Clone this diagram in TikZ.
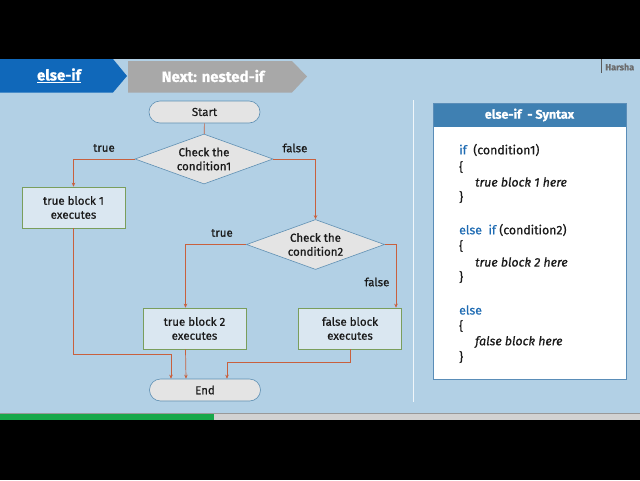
\documentclass[tikz,border=0pt]{standalone}
\usepackage{fontspec}
\setmainfont{Fira Sans}[RawFeature={embolden=0.7}]
\usetikzlibrary{shapes.geometric,arrows.meta}
\definecolor{bgblue}{HTML}{B2D0E5}
\definecolor{tabblue}{HTML}{1068BA}
\definecolor{tabgray}{HTML}{A8A8A8}
\definecolor{nodegray}{HTML}{E4E4E4}
\definecolor{nodeedge}{HTML}{5E8FB3}
\definecolor{boxfill}{HTML}{DAE7F1}
\definecolor{boxedge}{HTML}{7A9E5C}
\definecolor{arrowred}{HTML}{C8603E}
\definecolor{panelhead}{HTML}{3F80B2}
\definecolor{paneledge}{HTML}{5A8DB8}
\definecolor{kwblue}{HTML}{1E6BB3}
\definecolor{progreen}{HTML}{17A84A}
\definecolor{progray}{HTML}{D2D2D2}
\definecolor{txt}{HTML}{1A1A1A}
\tikzset{
  term/.style={draw=nodeedge, fill=nodegray, rounded corners=11pt, minimum width=111pt, minimum height=22pt, inner sep=0pt, font=\fontsize{11.5}{14}\selectfont, text=txt, line width=0.6pt},
  decision/.style={draw=nodeedge, fill=nodegray, shape=diamond, aspect=2.76, minimum width=138pt, minimum height=50pt, inner sep=-3pt, align=center, font=\fontsize{11.5}{14}\selectfont, text=txt, line width=0.6pt},
  block/.style={draw=boxedge, fill=boxfill, minimum width=103pt, minimum height=41pt, inner sep=0pt, align=center, font=\fontsize{11.5}{14}\selectfont, text=txt, line width=0.6pt},
  lbl/.style={font=\fontsize{11.5}{14}\selectfont, text=txt, inner sep=0pt},
  conn/.style={draw=arrowred, line width=0.7pt},
  arr/.style={conn, -{Stealth[length=4pt,width=3.5pt]}},
  code/.style={anchor=west, inner sep=0pt, font=\fontsize{12.3}{14}\selectfont, text=txt},
}
\begin{document}
\begin{tikzpicture}[x=1pt,y=-1pt]
\useasboundingbox (0,0) rectangle (640,480);
% background
\fill[black] (0,0) rectangle (640,480);
\fill[bgblue] (0,59) rectangle (640,413.5);
% progress bar
\fill[progray] (0,413.5) rectangle (640,420);
\draw[gray!80, line width=0.6pt] (0,413.5) -- (640,413.5);
\fill[progreen] (214,414) rectangle (0,420);
% header tabs
\fill[tabblue] (0,59) -- (113,59) -- (127,76) -- (113,92.5) -- (0,92.5) -- cycle;
\fill[tabgray] (128,61) -- (292,61) -- (307,76.5) -- (292,92.5) -- (128,92.5) -- cycle;
\node[text=white, font=\fontsize{15}{18}\bfseries\selectfont, inner sep=0pt] (t1) at (59,75.5) {\underline{else-if}};
\node[text=white, font=\fontsize{15}{18}\bfseries\selectfont, inner sep=0pt] (t2) at (213,76) {Next: nested-if};
% author
\draw[gray!70!black, line width=0.6pt] (601,59) -- (601,73);
\node[text=gray!85!black, font=\fontsize{9}{10}\bfseries\selectfont, inner sep=0pt, anchor=west] (auth) at (605,67) {Harsha};
% separator
\draw[white!80!bgblue, line width=0.6pt] (413,100) -- (413,402);
% flowchart
\node[term] (start) at (204.5,112) {Start};
\node[decision] (d1) at (204,159) {Check the\\condition1};
\node[block] (b1) at (73.5,207.5) {true block 1\\executes};
\node[decision] (d2) at (315.5,244.5) {Check the\\condition2};
\node[block] (b2) at (194.5,328.5) {true block 2\\executes};
\node[block] (b3) at (350,328.5) {false block\\executes};
\node[term] (end) at (205,390) {End};
\node[lbl] (l1) at (104,148) {true};
\node[lbl] (l2) at (295,148) {false};
\node[lbl] (l3) at (222,233) {true};
\node[lbl] (l4) at (377,282) {false};
\draw[conn] (start) -- (d1);
\draw[arr] (d1.west) -| (b1.north);
\draw[arr] (d1.east) -| (d2.north);
\draw[arr] (d2.west) -| ([xshift=-9pt]b2.north);
\draw[arr] (d2.east) -| ([xshift=46pt]b3.north);
\draw[arr] (b1.south) -- ++(0,126.5) -| ([xshift=-34pt]end.north);
\draw[arr] ([xshift=-9pt]b2.south) -- ([xshift=-19pt]end.north);
\draw[arr] (b3.south) -- ++(0,13) -| ([xshift=22pt]end.north);
% syntax panel
\fill[white] (433,103) rectangle (626,379);
\fill[panelhead] (433,103) rectangle (626,127);
\draw[paneledge, line width=0.8pt] (433,103) rectangle (626,379);
\node[text=white, font=\fontsize{12.5}{15}\bfseries\selectfont, inner sep=0pt] (title) at (529.5,115) {else-if\ \ - Syntax};
\node[code] (c1) at (459,150) {\textcolor{kwblue}{if}\ \ (condition1)};
\node[code] (c2) at (459,167) {\{};
\node[code] (c3) at (475,182) {\itshape true block 1 here};
\node[code] (c4) at (459,197) {\}};
\node[code] (c5) at (459,230) {\textcolor{kwblue}{else\ \ if} (condition2)};
\node[code] (c6) at (459,246) {\{};
\node[code] (c7) at (475,262) {\itshape true block 2 here};
\node[code] (c8) at (459,277) {\}};
\node[code] (c9) at (459,310) {\textcolor{kwblue}{else}};
\node[code] (c10) at (459,326) {\{};
\node[code] (c11) at (475,342) {\itshape false block here};
\node[code] (c12) at (459,357) {\}};
\end{tikzpicture}
\end{document}
